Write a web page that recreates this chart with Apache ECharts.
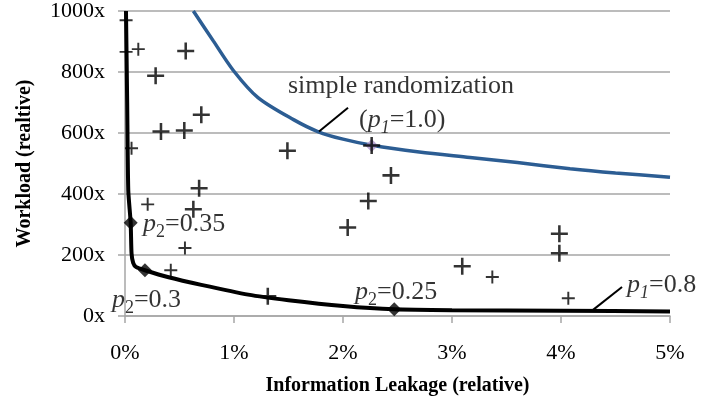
<!DOCTYPE html>
<html><head><meta charset="utf-8">
<script src="https://cdn.jsdelivr.net/npm/echarts@6/dist/echarts.min.js"></script>
<style>html,body{margin:0;padding:0;background:#fff}#c{width:701px;height:406px}</style>
</head><body><div id="c"></div>
<script>
// ---- data (x = information leakage %, y = workload x) ----
const xTicks = [0, 1, 2, 3, 4, 5];
const yTicks = [0, 200, 400, 600, 800, 1000];

const simpleRandomization = [
  [0.627, 1000], [0.81, 902], [0.994, 805], [1.22, 716],
  [1.55, 643], [1.774, 604], [2.0, 580],
  [2.278, 559], [2.7, 538], [3.165, 520], [3.6, 503], [4.083, 483], [4.5, 469], [5.0, 455]
];
const randomizationMarker = [[2.263, 559]];
const p1Curve = [
  [0.009, 1000], [0.02, 700], [0.03, 412], [0.052, 306], [0.06, 205], [0.075, 174],
  [0.1, 161], [0.183, 150], [0.4, 127], [0.7, 102], [1.13, 70],
  [1.5, 52], [2.0, 33], [2.47, 22], [3.0, 19], [4.0, 17], [5.0, 15]
];
const p1Diamonds = [[0.052, 306], [0.183, 150], [2.47, 22]];

const crossesLarge = [
  [0.557, 869], [0.281, 788], [0.33, 605], [0.544, 608], [0.70, 660], [0.68, 419],
  [0.627, 350], [1.49, 542], [2.263, 559], [2.44, 461], [2.232, 377], [2.043, 290],
  [3.094, 163], [3.985, 270], [3.985, 206], [1.31, 65]
];
const crossesSmall = [
  [0.01, 970], [0.122, 875], [0.01, 866], [0.06, 550], [0.208, 366], [0.55, 223],
  [0.42, 150], [3.37, 128], [4.067, 58]
];

const annotations = [
  { at: [1.495, 755], text: 'simple randomization' },
  { at: [2.147, 647], text: '{n|(}{i|p}{s|1}{n|=1.0)}' },
  { at: [0.165, 307], text: '{i|p}{t|2}{n|=0.35}' },
  { at: [-0.12, 57], text: '{i|p}{t|2}{n|=0.3}' },
  { at: [2.11, 85], text: '{i|p}{t|2}{n|=0.25}' },
  { at: [4.606, 108], text: '{i|p}{s|1}{n|=0.8}' }
];
const leaderRandom = [[1.78, 605], [2.046, 683]];
const leaderP1 = [[4.294, 20], [4.56, 95]];

// ---- chart ----
const FONT = 'Liberation Serif';
const plusPath = 'path://M0,6.8H16V9.2H0ZM6.8,0H9.2V16H6.8Z';
const chart = echarts.init(document.getElementById('c'), null, { renderer: 'canvas' });
const annFont = 26;
const rich = {
  i: { fontStyle: 'italic', fontSize: annFont, fontFamily: FONT, color: '#000', lineHeight: 30, verticalAlign: 'bottom' },
  n: { fontSize: annFont, fontFamily: FONT, color: '#000', lineHeight: 30, verticalAlign: 'bottom' },
  t: { fontSize: 18, fontFamily: FONT, color: '#000', lineHeight: 8, height: 10, verticalAlign: 'bottom' },
  s: { fontSize: 18, fontStyle: 'italic', fontFamily: FONT, color: '#000', lineHeight: 8, height: 10, verticalAlign: 'bottom' }
};
chart.setOption({
  animation: false,
  backgroundColor: '#fff',
  grid: { left: 125, right: 31, top: 10, bottom: 90 },
  xAxis: {
    type: 'value', min: xTicks[0], max: xTicks[xTicks.length - 1], interval: 1,
    axisLine: { show: true, lineStyle: { color: '#A6A6A6', width: 1.5 } },
    axisTick: { show: true, length: 7, lineStyle: { color: '#A6A6A6', width: 1.5 } },
    splitLine: { show: false },
    axisLabel: { formatter: v => v + '%', fontFamily: FONT, fontSize: 22, color: '#000', margin: 26 },
    name: 'Information Leakage (relative)', nameLocation: 'middle', nameGap: 60,
    nameTextStyle: { fontFamily: FONT, fontSize: 20, fontWeight: 'bold', color: '#000' }
  },
  yAxis: {
    type: 'value', min: yTicks[0], max: yTicks[yTicks.length - 1], interval: 200,
    axisLine: { show: true, lineStyle: { color: '#A6A6A6', width: 1.5 } },
    axisTick: { show: true, length: 7, lineStyle: { color: '#A6A6A6', width: 1.5 } },
    splitLine: { show: true, lineStyle: { color: '#A6A6A6', width: 1.5 } },
    axisLabel: { formatter: v => String(v) + 'x', fontFamily: FONT, fontSize: 22, color: '#000', margin: 20 },
    name: 'Workload (realtive)', nameLocation: 'middle', nameGap: 90,
    nameTextStyle: { fontFamily: FONT, fontSize: 20, fontWeight: 'bold', color: '#000' }
  },
  series: [
    { type: 'line', data: simpleRandomization, smooth: 0.3, showSymbol: false, clip: true,
      lineStyle: { color: '#2C5D93', width: 3.5 }, z: 2 },
    { type: 'scatter', data: randomizationMarker, symbol: 'diamond', symbolSize: 13,
      itemStyle: { color: '#A992C8' }, z: 3 },
    { type: 'line', data: p1Curve, smooth: 0.2, showSymbol: false,
      lineStyle: { color: '#000', width: 4 }, z: 3 },
    { type: 'scatter', data: p1Diamonds, symbol: 'diamond', symbolSize: 14,
      itemStyle: { color: '#000' }, z: 4 },
    { type: 'scatter', data: crossesLarge, symbol: plusPath, symbolSize: 17,
      itemStyle: { color: '#000' }, z: 5 },
    { type: 'scatter', data: crossesSmall, symbol: plusPath, symbolSize: 13,
      itemStyle: { color: '#000' }, z: 5 },
    { type: 'line', data: leaderRandom, showSymbol: false, lineStyle: { color: '#000', width: 2 }, z: 6 },
    { type: 'line', data: leaderP1, showSymbol: false, lineStyle: { color: '#000', width: 2 }, z: 6 },
    { type: 'scatter', clip: false, symbolSize: 0, z: 7,
      data: annotations.map(a => ({ value: a.at, label: { formatter: a.text } })),
      label: { show: true, position: 'right', distance: 0, fontFamily: FONT, fontSize: annFont,
        color: '#000', rich: rich }
    }
  ]
});
</script></body></html>
